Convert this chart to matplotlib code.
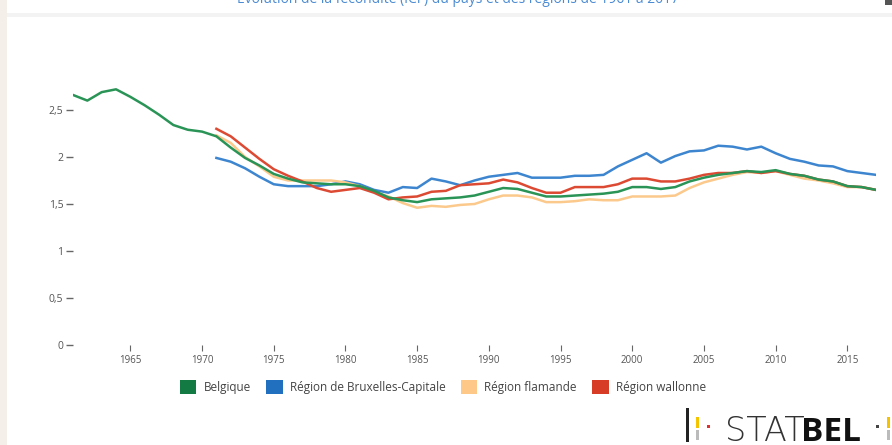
import numpy as np
import matplotlib.pyplot as plt
from matplotlib.patches import Patch, Rectangle

plt.rcParams['font.family'] = ['Open Sans', 'DejaVu Sans']

years_be = np.arange(1961, 2018)
years_reg = np.arange(1971, 2018)

belgique = [2.66, 2.60, 2.69, 2.72, 2.64, 2.55, 2.45, 2.34, 2.29, 2.27,
            2.22, 2.10, 1.99, 1.91, 1.82, 1.77, 1.73, 1.72, 1.71, 1.71,
            1.69, 1.64, 1.57, 1.54, 1.52, 1.55, 1.56, 1.57, 1.59, 1.63,
            1.67, 1.66, 1.62, 1.58, 1.58, 1.59, 1.60, 1.61, 1.63, 1.68,
            1.68, 1.66, 1.68, 1.74, 1.78, 1.81, 1.83, 1.85, 1.84, 1.86,
            1.82, 1.80, 1.76, 1.74, 1.69, 1.68, 1.65]
bruxelles = [1.99, 1.95, 1.88, 1.79, 1.71, 1.69, 1.69, 1.69, 1.71, 1.74,
             1.71, 1.65, 1.62, 1.68, 1.67, 1.77, 1.74, 1.70, 1.75, 1.79,
             1.81, 1.83, 1.78, 1.78, 1.78, 1.80, 1.80, 1.81, 1.90, 1.97,
             2.04, 1.94, 2.01, 2.06, 2.07, 2.12, 2.11, 2.08, 2.11, 2.04,
             1.98, 1.95, 1.91, 1.90, 1.85, 1.83, 1.81]
flamande = [2.23, 2.15, 2.00, 1.90, 1.79, 1.75, 1.75, 1.75, 1.75, 1.73,
            1.69, 1.63, 1.58, 1.51, 1.46, 1.48, 1.47, 1.49, 1.50, 1.55,
            1.59, 1.59, 1.57, 1.52, 1.52, 1.53, 1.55, 1.54, 1.54, 1.58,
            1.58, 1.58, 1.59, 1.67, 1.73, 1.77, 1.81, 1.84, 1.83, 1.85,
            1.81, 1.77, 1.75, 1.72, 1.68, 1.68, 1.65]
wallonne = [2.30, 2.22, 2.10, 1.98, 1.87, 1.80, 1.74, 1.67, 1.63, 1.65,
            1.67, 1.62, 1.55, 1.57, 1.58, 1.63, 1.64, 1.70, 1.71, 1.72,
            1.76, 1.73, 1.67, 1.62, 1.62, 1.68, 1.68, 1.68, 1.71, 1.77,
            1.77, 1.74, 1.74, 1.77, 1.81, 1.83, 1.83, 1.85, 1.83, 1.85,
            1.82, 1.80, 1.76, 1.74, 1.69, 1.68, 1.65]

labels = ['Belgique', 'Région de Bruxelles-Capitale', 'Région flamande', 'Région wallonne']
legend_colors = ['#137a43', '#2170bf', '#fdc888', '#d63c26']
line_colors = ['#2a9457', '#3d86cf', '#fcc98c', '#dc4a33']

yticks = [0, 0.5, 1, 1.5, 2, 2.5]
ytick_labels = ['0', '0,5', '1', '1,5', '2', '2,5']
xticks = list(range(1965, 2016, 5))

fig = plt.figure(figsize=(8.92, 4.45), dpi=100)
ax = fig.add_axes([73 / 892, 100 / 445, 803 / 892, 282 / 445])

# draw order: blue, orange, red, green on top
ax.plot(years_reg, bruxelles, color=line_colors[1], lw=1.8)
ax.plot(years_reg, flamande, color=line_colors[2], lw=1.8)
ax.plot(years_reg, wallonne, color=line_colors[3], lw=1.8)
ax.plot(years_be, belgique, color=line_colors[0], lw=1.8)

ax.set_xlim(1961, 2017)
ax.set_ylim(0, 3)
for s in ax.spines.values():
    s.set_visible(False)
ax.set_yticks(yticks)
ax.set_yticklabels(ytick_labels)
ax.set_xticks(xticks)
ax.tick_params(axis='y', length=5, width=1, color='#666666', pad=2,
               labelsize=7.5, labelcolor='#555555')
ax.tick_params(axis='x', length=4, width=0.8, color='#666666', pad=3,
               labelsize=7, labelcolor='#555555')

handles = [Patch(facecolor=c, edgecolor='none') for c in legend_colors]
fig.legend(handles, labels, loc='center', bbox_to_anchor=(443 / 892, 1 - 387 / 445),
           ncol=4, frameon=False, fontsize=8.5, handlelength=1.4, handleheight=1.5,
           handletextpad=0.6, columnspacing=1.3, labelcolor='#444444')

# page decorations
fig.patches.append(Rectangle((0, 0), 7 / 892, 1, transform=fig.transFigure,
                             facecolor='#f4f0e9', edgecolor='none'))
fig.patches.append(Rectangle((7 / 892, 1 - 17 / 445), 1, 4 / 445, transform=fig.transFigure,
                             facecolor='#f3f3f3', edgecolor='none'))
fig.patches.append(Rectangle((885 / 892, 1 - 5 / 445), 7 / 892, 5 / 445, transform=fig.transFigure,
                             facecolor='#555555', edgecolor='none'))
fig.text(458 / 892, 1 - 3 / 445,
         'Évolution de la fécondité (ICF) du pays et des régions de 1961 à 2017',
         ha='center', va='baseline', fontsize=10, color='#4a8bd4')

# STATBEL logo
fig.text(805 / 892, 1 - 441 / 445, 'STAT', ha='right', va='baseline',
         fontsize=24, color='#333333', family='DejaVu Sans', fontweight='light')
fig.text(801 / 892, 1 - 441 / 445, 'BEL', ha='left', va='baseline',
         fontsize=24, color='#111111', fontweight='bold')
logo_bits = [(686, 408, 3, 34, '#222222'), (696, 417, 3, 11, '#f5c400'),
             (696, 430, 3, 10, '#bbbbbb'), (707, 425, 3, 3, '#e03030'),
             (876, 425, 3, 3, '#444444'), (887, 417, 3, 11, '#f5c400'),
             (887, 430, 3, 10, '#bbbbbb')]
for x0, y0, w, h, c in logo_bits:
    fig.patches.append(Rectangle((x0 / 892, 1 - (y0 + h) / 445), w / 892, h / 445,
                                 transform=fig.transFigure, facecolor=c, edgecolor='none'))

fig.savefig('out.png', dpi=100)
